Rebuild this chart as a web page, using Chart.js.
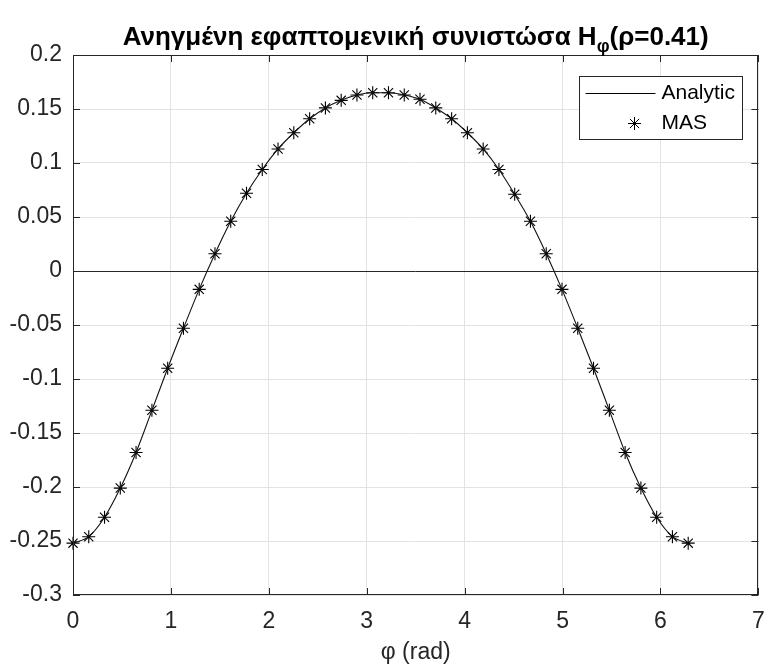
<!DOCTYPE html>
<html>
<head>
<meta charset="utf-8">
<script src="https://cdn.jsdelivr.net/npm/chart.js@4.4.1/dist/chart.umd.min.js"></script>
<style>
  html, body { margin: 0; padding: 0; background: #fff; }
</style>
</head>
<body>
<canvas id="hphi" width="766" height="671"></canvas>
<script>
// sample angles (rad), 40 points over one turn
var phi = [0.000, 0.161, 0.322, 0.483, 0.644, 0.806, 0.967, 1.128, 1.289, 1.450,
           1.611, 1.772, 1.933, 2.094, 2.255, 2.417, 2.578, 2.739, 2.900, 3.061,
           3.222, 3.383, 3.544, 3.705, 3.867, 4.028, 4.189, 4.350, 4.511, 4.672,
           4.833, 4.994, 5.155, 5.316, 5.478, 5.639, 5.800, 5.961, 6.122, 6.283];

// analytic H_phi at the same angles
var hAnalytic = [-0.252, -0.246, -0.228, -0.201, -0.168, -0.129, -0.090, -0.053, -0.017, 0.016,
                 0.046, 0.072, 0.094, 0.113, 0.128, 0.141, 0.151, 0.158, 0.163, 0.165,
                 0.165, 0.163, 0.159, 0.151, 0.141, 0.128, 0.113, 0.094, 0.071, 0.046,
                 0.016, -0.017, -0.053, -0.090, -0.129, -0.168, -0.201, -0.228, -0.246, -0.252];

// MAS solution
var hMAS = [-0.252, -0.246, -0.228, -0.201, -0.168, -0.129, -0.090, -0.053, -0.017, 0.016,
            0.046, 0.072, 0.094, 0.113, 0.128, 0.141, 0.151, 0.158, 0.163, 0.165,
            0.165, 0.163, 0.159, 0.151, 0.141, 0.128, 0.113, 0.094, 0.071, 0.046,
            0.016, -0.017, -0.053, -0.090, -0.129, -0.168, -0.201, -0.228, -0.246, -0.252];

var xTicks = [0, 1, 2, 3, 4, 5, 6, 7];
var yTicks = [-0.3, -0.25, -0.2, -0.15, -0.1, -0.05, 0, 0.05, 0.1, 0.15, 0.2];

var FONT = "'Liberation Sans', Arial, sans-serif";
var AXIS = '#262626';
var GRID = '#e3e3e3';

Chart.defaults.font.family = FONT;
Chart.defaults.color = AXIS;

function pts(xs, ys) {
  return xs.map(function (x, i) { return { x: x, y: ys[i] }; });
}

// box round the axes with inward ticks on all four sides
var axesBox = {
  id: 'axesBox',
  afterDatasetsDraw: function (chart) {
    var ctx = chart.ctx, a = chart.chartArea;
    var xs = chart.scales.x, ys = chart.scales.y;
    var len = 7;
    ctx.save();
    ctx.strokeStyle = AXIS;
    ctx.lineWidth = 1;
    ctx.beginPath();
    xs.ticks.forEach(function (t) {
      var px = Math.round(xs.getPixelForValue(t.value)) + 0.5;
      ctx.moveTo(px, a.bottom); ctx.lineTo(px, a.bottom - len);
      ctx.moveTo(px, a.top); ctx.lineTo(px, a.top + len);
    });
    ys.ticks.forEach(function (t) {
      var py = Math.round(ys.getPixelForValue(t.value)) + 0.5;
      ctx.moveTo(a.left, py); ctx.lineTo(a.left + len, py);
      ctx.moveTo(a.right, py); ctx.lineTo(a.right - len, py);
    });
    ctx.stroke();
    ctx.strokeRect(Math.round(a.left) + 0.5, Math.round(a.top) + 0.5,
                   Math.round(a.right - a.left) - 1, Math.round(a.bottom - a.top) - 1);
    ctx.restore();
  }
};

// legend box in the upper right corner of the axes
var boxLegend = {
  id: 'boxLegend',
  afterDraw: function (chart) {
    var ctx = chart.ctx, a = chart.chartArea;
    var w = 163, h = 63;
    var x = Math.round(a.right - 179) + 0.5, y = Math.round(a.top + 21) + 0.5;
    ctx.save();
    ctx.fillStyle = '#fff';
    ctx.fillRect(x, y, w, h);
    ctx.strokeStyle = AXIS;
    ctx.lineWidth = 1;
    ctx.strokeRect(x, y, w, h);
    // Analytic sample
    ctx.strokeStyle = '#000';
    ctx.beginPath();
    ctx.moveTo(x + 6, y + 17);
    ctx.lineTo(x + 76, y + 17);
    ctx.stroke();
    // MAS sample
    Chart.helpers.drawPoint(ctx, { pointStyle: 'star', radius: 6.5, borderWidth: 1.1 }, x + 55, y + 47);
    ctx.fillStyle = '#000';
    ctx.font = '21px ' + FONT;
    ctx.textBaseline = 'middle';
    ctx.fillText('Analytic', x + 82, y + 17);
    ctx.fillText('MAS', x + 82, y + 47);
    ctx.restore();
  }
};

// bold title with subscript phi
var subTitle = {
  id: 'subTitle',
  afterDraw: function (chart) {
    var ctx = chart.ctx, a = chart.chartArea;
    var head = 'Ανηγμένη εφαπτομενική συνιστώσα H', sub = 'φ', tail = '(ρ=0.41)';
    var big = 'bold 26px ' + FONT, small = 'bold 18px ' + FONT;
    ctx.save();
    ctx.fillStyle = '#000';
    ctx.textBaseline = 'alphabetic';
    ctx.font = big;
    var w1 = ctx.measureText(head).width, w3 = ctx.measureText(tail).width;
    ctx.font = small;
    var w2 = ctx.measureText(sub).width;
    var x = (a.left + a.right) / 2 - (w1 + w2 + w3) / 2;
    var base = 45;
    ctx.font = big;
    ctx.fillText(head, x, base);
    ctx.font = small;
    ctx.fillText(sub, x + w1, base + 7);
    ctx.font = big;
    ctx.fillText(tail, x + w1 + w2, base);
    ctx.restore();
  }
};

new Chart(document.getElementById('hphi'), {
  type: 'line',
  data: {
    datasets: [{
      label: 'Analytic',
      data: pts(phi, hAnalytic),
      borderColor: '#111',
      borderWidth: 1.1,
      pointRadius: 0,
      cubicInterpolationMode: 'monotone',
      clip: false
    }, {
      label: 'MAS',
      data: pts(phi, hMAS),
      showLine: false,
      pointStyle: 'star',
      pointRadius: 6.5,
      pointBorderWidth: 1.1,
      borderColor: '#000',
      backgroundColor: '#000',
      clip: false
    }]
  },
  options: {
    responsive: false,
    animation: false,
    events: [],
    layout: { padding: { top: 55, right: 4, left: 0, bottom: 0 } },
    plugins: {
      legend: { display: false },
      tooltip: { enabled: false },
      title: { display: false }
    },
    scales: {
      x: {
        type: 'linear',
        min: 0,
        max: 7,
        afterBuildTicks: function (s) { s.ticks = xTicks.map(function (v) { return { value: v }; }); },
        afterFit: function (s) { s.height = 76; s.paddingLeft = 0; s.paddingRight = 0; },
        grid: { color: GRID, drawTicks: false },
        border: { display: false },
        ticks: { padding: 13, font: { size: 23 }, color: AXIS, maxRotation: 0, autoSkip: false },
        title: { display: true, text: 'φ (rad)', font: { size: 23 }, color: AXIS, padding: { top: 0, bottom: 5 } }
      },
      y: {
        type: 'linear',
        min: -0.3,
        max: 0.2,
        afterBuildTicks: function (s) { s.ticks = yTicks.map(function (v) { return { value: v }; }); },
        afterFit: function (s) { s.width = 73; s.paddingTop = 0; s.paddingBottom = 0; },
        grid: {
          color: function (c) { return c.tick && c.tick.value === 0 ? AXIS : GRID; },
          drawTicks: false
        },
        border: { display: false },
        ticks: {
          padding: 11,
          font: { size: 23 },
          color: AXIS,
          autoSkip: false,
          callback: function (v) { return String(+v.toFixed(2)); }
        }
      }
    }
  },
  plugins: [axesBox, boxLegend, subTitle]
});
</script>
</body>
</html>
